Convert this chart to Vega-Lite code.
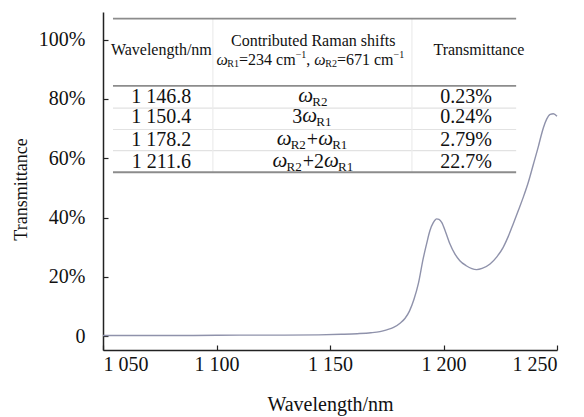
{
  "$schema": "https://vega.github.io/schema/vega-lite/v6.json",
  "width": 454,
  "height": 338,
  "autosize": "none",
  "padding": {"left": 103, "top": 12, "right": 27, "bottom": 67},
  "background": "white",
  "config": {
    "view": {"stroke": null},
    "font": "Liberation Serif",
    "axis": {"grid": false, "domainColor": "#222222", "domainWidth": 1.5, "tickColor": "#222222", "tickWidth": 1.2, "tickSize": -5, "labelFont": "Liberation Serif", "labelFontSize": 20, "labelColor": "#111111", "titleFont": "Liberation Serif", "titleFontWeight": "normal", "titleColor": "#111111"}
  },
  "datasets": {
    "curve": [
      {"wl": 1050, "tr": 0.003}, {"wl": 1070, "tr": 0.003}, {"wl": 1090, "tr": 0.003},
      {"wl": 1110, "tr": 0.004}, {"wl": 1130, "tr": 0.004}, {"wl": 1145, "tr": 0.005},
      {"wl": 1155, "tr": 0.007}, {"wl": 1162, "tr": 0.009}, {"wl": 1168, "tr": 0.012},
      {"wl": 1172, "tr": 0.016}, {"wl": 1175, "tr": 0.022}, {"wl": 1178, "tr": 0.030},
      {"wl": 1181, "tr": 0.045}, {"wl": 1183, "tr": 0.060}, {"wl": 1185, "tr": 0.085},
      {"wl": 1187, "tr": 0.125}, {"wl": 1189, "tr": 0.18}, {"wl": 1191, "tr": 0.26},
      {"wl": 1192.5, "tr": 0.31}, {"wl": 1194, "tr": 0.356}, {"wl": 1195.5, "tr": 0.383},
      {"wl": 1197, "tr": 0.396}, {"wl": 1198, "tr": 0.394}, {"wl": 1199.2, "tr": 0.384},
      {"wl": 1201, "tr": 0.35}, {"wl": 1202.8, "tr": 0.312}, {"wl": 1205, "tr": 0.278},
      {"wl": 1207.2, "tr": 0.255}, {"wl": 1210, "tr": 0.238}, {"wl": 1212.5, "tr": 0.228},
      {"wl": 1214.6, "tr": 0.225}, {"wl": 1217, "tr": 0.229}, {"wl": 1220.5, "tr": 0.244},
      {"wl": 1223.5, "tr": 0.268}, {"wl": 1226.3, "tr": 0.30}, {"wl": 1228.5, "tr": 0.336},
      {"wl": 1230.7, "tr": 0.379}, {"wl": 1233, "tr": 0.425}, {"wl": 1235.2, "tr": 0.47},
      {"wl": 1237.4, "tr": 0.52}, {"wl": 1239.6, "tr": 0.58}, {"wl": 1241.8, "tr": 0.64},
      {"wl": 1243, "tr": 0.676}, {"wl": 1244, "tr": 0.703}, {"wl": 1245.5, "tr": 0.733},
      {"wl": 1247, "tr": 0.748}, {"wl": 1248.4, "tr": 0.75}, {"wl": 1250, "tr": 0.742}
    ],
    "hrules": [
      {"kind": "main", "tr": 1.0705, "from": 1054.4, "to": 1232.0},
      {"kind": "main", "tr": 0.844, "from": 1054.4, "to": 1232.0},
      {"kind": "faint", "tr": 0.769, "from": 1054.4, "to": 1232.0},
      {"kind": "faint", "tr": 0.697, "from": 1054.4, "to": 1232.0},
      {"kind": "faint", "tr": 0.626, "from": 1054.4, "to": 1232.0},
      {"kind": "main", "tr": 0.553, "from": 1054.4, "to": 1232.0}
    ],
    "vrules": [
      {"wl": 1098.4, "lo": 0.553, "hi": 1.0705},
      {"wl": 1186.1, "lo": 0.553, "hi": 1.0705}
    ],
    "cells": [
      {"level": "header", "wl": 1075.7, "tr": 0.964, "label": "Wavelength/nm"},
      {"level": "header", "wl": 1142.6, "tr": 0.995, "label": "Contributed Raman shifts"},
      {"level": "header", "wl": 1215.6, "tr": 0.964, "label": "Transmittance"},
      {"level": "body", "wl": 1075.7, "tr": 0.806, "label": "1 146.8"},
      {"level": "body", "wl": 1075.7, "tr": 0.738, "label": "1 150.4"},
      {"level": "body", "wl": 1075.7, "tr": 0.663, "label": "1 178.2"},
      {"level": "body", "wl": 1075.7, "tr": 0.587, "label": "1 211.6"},
      {"level": "body", "wl": 1209.9, "tr": 0.806, "label": "0.23%"},
      {"level": "body", "wl": 1209.9, "tr": 0.738, "label": "0.24%"},
      {"level": "body", "wl": 1209.9, "tr": 0.663, "label": "2.79%"},
      {"level": "body", "wl": 1209.9, "tr": 0.587, "label": "22.7%"}
    ],
    "segs": [
      {"level": "header", "part": "greek", "wl": 1099.99, "tr": 0.93, "label": "ω"},
      {"level": "header", "part": "sub", "wl": 1104.79, "tr": 0.93, "label": "R1"},
      {"level": "header", "part": "plain", "wl": 1109.95, "tr": 0.93, "label": "=234 cm"},
      {"level": "header", "part": "sup", "wl": 1134.9, "tr": 0.93, "label": "−1"},
      {"level": "header", "part": "plain", "wl": 1139.57, "tr": 0.93, "label": ","},
      {"level": "header", "part": "greek", "wl": 1143.1, "tr": 0.93, "label": "ω"},
      {"level": "header", "part": "sub", "wl": 1147.91, "tr": 0.93, "label": "R2"},
      {"level": "header", "part": "plain", "wl": 1153.06, "tr": 0.93, "label": "=671 cm"},
      {"level": "header", "part": "sup", "wl": 1178.01, "tr": 0.93, "label": "−1"},
      {"level": "body", "part": "greek", "wl": 1136.05, "tr": 0.806, "label": "ω"},
      {"level": "body", "part": "sub", "wl": 1142.22, "tr": 0.806, "label": "R2"},
      {"level": "body", "part": "plain", "wl": 1133.4, "tr": 0.738, "label": "3"},
      {"level": "body", "part": "greek", "wl": 1137.81, "tr": 0.738, "label": "ω"},
      {"level": "body", "part": "sub", "wl": 1143.98, "tr": 0.738, "label": "R1"},
      {"level": "body", "part": "greek", "wl": 1126.5, "tr": 0.663, "label": "ω"},
      {"level": "body", "part": "sub", "wl": 1132.67, "tr": 0.663, "label": "R2"},
      {"level": "body", "part": "plain", "wl": 1139.8, "tr": 0.663, "label": "+"},
      {"level": "body", "part": "greek", "wl": 1144.8, "tr": 0.663, "label": "ω"},
      {"level": "body", "part": "sub", "wl": 1150.97, "tr": 0.663, "label": "R1"},
      {"level": "body", "part": "greek", "wl": 1124.7, "tr": 0.587, "label": "ω"},
      {"level": "body", "part": "sub", "wl": 1130.87, "tr": 0.587, "label": "R2"},
      {"level": "body", "part": "plain", "wl": 1138.0, "tr": 0.587, "label": "+"},
      {"level": "body", "part": "plain", "wl": 1143.0, "tr": 0.587, "label": "2"},
      {"level": "body", "part": "greek", "wl": 1147.4, "tr": 0.587, "label": "ω"},
      {"level": "body", "part": "sub", "wl": 1153.57, "tr": 0.587, "label": "R1"}
    ]
  },
  "encoding": {
    "x": {"field": "wl", "type": "quantitative", "scale": {"domain": [1050, 1250], "nice": false, "zero": false}, "axis": {"title": "Wavelength/nm", "values": [1050, 1100, 1150, 1200, 1250], "labelExpr": "replace(format(datum.value, ','), ',', ' ')", "labelFont": "Liberation Serif", "titleFont": "Liberation Serif", "titleFontSize": 20, "labelPadding": 9, "titlePadding": 20}},
    "y": {"field": "tr", "type": "quantitative", "scale": {"domain": [-0.046, 1.093], "nice": false, "zero": false}, "axis": {"title": "Transmittance", "values": [0, 0.2, 0.4, 0.6, 0.8, 1.0], "labelExpr": "datum.value == 0 ? '0' : format(datum.value, '.0%')", "labelFont": "Liberation Serif", "titleFont": "Liberation Serif", "titleFontSize": 18, "labelPadding": 23, "titlePadding": 8, "titleY": 177}}
  },
  "layer": [
    {
      "data": {"name": "hrules"},
      "transform": [{"filter": "datum.kind == 'faint'"}],
      "mark": {"type": "rule", "color": "#e2e2e2", "strokeWidth": 1.2},
      "encoding": {"x": {"field": "from", "type": "quantitative"}, "x2": {"field": "to"}}
    },
    {
      "data": {"name": "vrules"},
      "mark": {"type": "rule", "color": "#ececec", "strokeWidth": 1.2},
      "encoding": {"y": {"field": "lo", "type": "quantitative"}, "y2": {"field": "hi"}}
    },
    {
      "data": {"name": "hrules"},
      "transform": [{"filter": "datum.kind == 'main'"}],
      "mark": {"type": "rule", "color": "#8c8c8c", "strokeWidth": 1.8},
      "encoding": {"x": {"field": "from", "type": "quantitative"}, "x2": {"field": "to"}}
    },
    {
      "data": {"name": "curve"},
      "mark": {"type": "line", "color": "#8f92ab", "strokeWidth": 1.4, "interpolate": "monotone"},
      "encoding": {}
    },
    {
      "data": {"name": "cells"},
      "transform": [{"filter": "datum.level == 'header'"}],
      "mark": {"type": "text", "font": "Liberation Serif", "color": "#111111", "fontSize": 16, "align": "center", "baseline": "middle"},
      "encoding": {"text": {"field": "label"}}
    },
    {
      "data": {"name": "cells"},
      "transform": [{"filter": "datum.level == 'body'"}],
      "mark": {"type": "text", "font": "Liberation Serif", "color": "#111111", "fontSize": 20, "align": "center", "baseline": "middle"},
      "encoding": {"text": {"field": "label"}}
    },
    {
      "data": {"name": "segs"},
      "transform": [{"filter": "datum.level == 'header' && datum.part == 'greek'"}],
      "mark": {"type": "text", "font": "Liberation Serif", "color": "#111111", "fontSize": 16, "fontStyle": "italic", "align": "left", "baseline": "middle"},
      "encoding": {"text": {"field": "label"}}
    },
    {
      "data": {"name": "segs"},
      "transform": [{"filter": "datum.level == 'header' && datum.part == 'plain'"}],
      "mark": {"type": "text", "font": "Liberation Serif", "color": "#111111", "fontSize": 16, "align": "left", "baseline": "middle"},
      "encoding": {"text": {"field": "label"}}
    },
    {
      "data": {"name": "segs"},
      "transform": [{"filter": "datum.level == 'header' && datum.part == 'sub'"}],
      "mark": {"type": "text", "font": "Liberation Serif", "color": "#111111", "fontSize": 10, "align": "left", "baseline": "middle", "dy": 4},
      "encoding": {"text": {"field": "label"}}
    },
    {
      "data": {"name": "segs"},
      "transform": [{"filter": "datum.level == 'header' && datum.part == 'sup'"}],
      "mark": {"type": "text", "font": "Liberation Serif", "color": "#111111", "fontSize": 10, "align": "left", "baseline": "middle", "dy": -5},
      "encoding": {"text": {"field": "label"}}
    },
    {
      "data": {"name": "segs"},
      "transform": [{"filter": "datum.level == 'body' && datum.part == 'greek'"}],
      "mark": {"type": "text", "font": "Liberation Serif", "color": "#111111", "fontSize": 21, "fontStyle": "italic", "align": "left", "baseline": "middle", "dy": -1},
      "encoding": {"text": {"field": "label"}}
    },
    {
      "data": {"name": "segs"},
      "transform": [{"filter": "datum.level == 'body' && datum.part == 'plain'"}],
      "mark": {"type": "text", "font": "Liberation Serif", "color": "#111111", "fontSize": 20, "align": "left", "baseline": "middle"},
      "encoding": {"text": {"field": "label"}}
    },
    {
      "data": {"name": "segs"},
      "transform": [{"filter": "datum.level == 'body' && datum.part == 'sub'"}],
      "mark": {"type": "text", "font": "Liberation Serif", "color": "#111111", "fontSize": 13, "align": "left", "baseline": "middle", "dy": 5},
      "encoding": {"text": {"field": "label"}}
    }
  ]
}
